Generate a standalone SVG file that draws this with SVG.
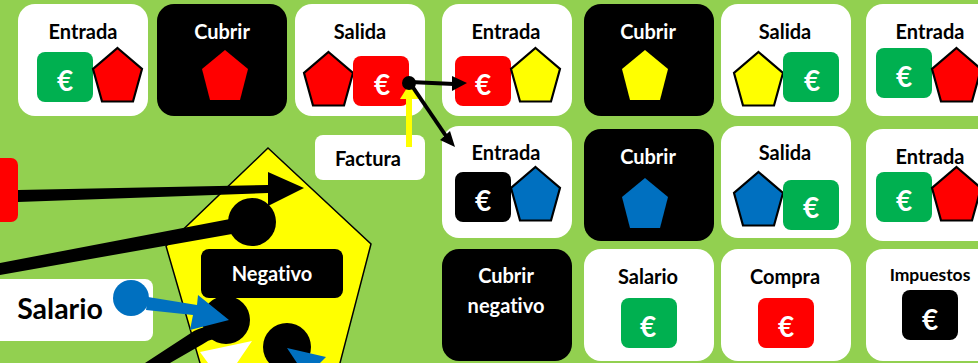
<svg xmlns="http://www.w3.org/2000/svg" width="978" height="363" viewBox="0 0 978 363">
<style>
text{font-family:"Lato","Liberation Sans",sans-serif;font-weight:700;text-anchor:middle;font-variant-ligatures:none}
.t{font-size:20px;fill:#000}
.w{font-size:20px;fill:#fff}
.e{font-size:28px;fill:#fff}
.card{fill:#fff}
.dark{fill:#000}
.pk{stroke:#000;stroke-width:2.2;stroke-linejoin:miter}
.thin{stroke:#000;stroke-width:4;fill:none}
</style>
<defs>
<polygon id="pent" points="24.5,0 49,21 40,53.5 9,53.5 0,21"/>
<polygon id="pentS" points="23,0 46,19 38,50 8,50 0,19"/>
<rect id="sq" width="56" height="50" rx="8"/>
<rect id="cd" width="130" height="112" rx="17"/>
</defs>
<rect width="978" height="363" fill="#92D050"/>

<g id="n-entrada-1"><use href="#cd" class="card" x="18" y="4"/><text class="t" x="83" y="39">Entrada</text><use href="#sq" x="37" y="52" fill="#00B050"/><text class="e" x="65" y="91">€</text><use href="#pent" class="pk" x="93" y="48" fill="#f00"/></g>
<g id="n-cubrir-1"><use href="#cd" class="dark" x="157" y="4"/><text class="w" x="222" y="39">Cubrir</text><use href="#pentS" x="202" y="50" fill="#f00"/></g>
<g id="n-salida-1"><use href="#cd" class="card" x="295" y="4"/><text class="t" x="360" y="39">Salida</text><use href="#pent" class="pk" x="304" y="52" fill="#f00"/><use href="#sq" x="353" y="56" fill="#f00"/><text class="e" x="382" y="95">€</text></g>
<g id="n-entrada-2"><use href="#cd" class="card" x="442" y="4"/><text class="t" x="506" y="39">Entrada</text><use href="#sq" x="455" y="56" fill="#f00"/><text class="e" x="483" y="95">€</text><use href="#pent" class="pk" x="511" y="48" fill="#ff0"/></g>
<g id="n-cubrir-2"><use href="#cd" class="dark" x="584" y="4"/><text class="w" x="648" y="39">Cubrir</text><use href="#pentS" x="622" y="50" fill="#ff0"/></g>
<g id="n-salida-2"><use href="#cd" class="card" x="721" y="4"/><text class="t" x="785" y="39">Salida</text><use href="#pent" class="pk" x="734" y="52" fill="#ff0"/><use href="#sq" x="783" y="52" fill="#00B050"/><text class="e" x="812" y="91">€</text></g>
<g id="n-entrada-3"><use href="#cd" class="card" x="866" y="4"/><text class="t" x="930" y="39">Entrada</text><use href="#sq" x="876" y="48" fill="#00B050"/><text class="e" x="904" y="87">€</text><use href="#pent" class="pk" x="932" y="48" fill="#f00"/></g>

<g id="n-entrada-4"><use href="#cd" class="card" x="442" y="126"/><text class="t" x="506" y="160">Entrada</text><use href="#sq" x="455" y="172" fill="#000"/><text class="e" x="483" y="211">€</text><use href="#pent" class="pk" x="511" y="167" fill="#0070C0"/></g>
<g id="n-cubrir-3"><use href="#cd" class="dark" x="584" y="129"/><text class="w" x="648" y="164">Cubrir</text><use href="#pentS" x="622" y="178" fill="#0070C0"/></g>
<g id="n-salida-3"><use href="#cd" class="card" x="721" y="126"/><text class="t" x="785" y="160">Salida</text><use href="#pent" class="pk" x="734" y="172" fill="#0070C0"/><use href="#sq" x="783" y="180" fill="#00B050"/><text class="e" x="811" y="218">€</text></g>
<g id="n-entrada-5"><use href="#cd" class="card" x="866" y="129"/><text class="t" x="930" y="164">Entrada</text><use href="#sq" x="876" y="172" fill="#00B050"/><text class="e" x="904" y="211">€</text><use href="#pent" class="pk" x="932" y="167" fill="#f00"/></g>

<g id="n-cubrir-negativo"><use href="#cd" class="dark" x="442" y="249"/><text class="w" x="506" y="283">Cubrir</text><text class="w" x="506" y="313">negativo</text></g>
<g id="n-salario-card"><use href="#cd" class="card" x="584" y="249"/><text class="t" x="648" y="284">Salario</text><use href="#sq" x="621" y="298" fill="#00B050"/><text class="e" x="648" y="337">€</text></g>
<g id="n-compra"><use href="#cd" class="card" x="721" y="249"/><text class="t" x="785" y="284">Compra</text><use href="#sq" x="758" y="298" fill="#f00"/><text class="e" x="786" y="337">€</text></g>
<g id="n-impuestos"><use href="#cd" class="card" x="866" y="249"/><text class="t" x="930" y="281" style="font-size:17.5px">Impuestos</text><use href="#sq" x="902" y="290" fill="#000"/><text class="e" x="930" y="330">€</text></g>

<g id="n-factura"><rect x="315" y="135" width="110" height="45" rx="8" fill="#fff"/><text class="t" x="368" y="166">Factura</text></g>
<g id="n-pentagono"><polygon points="268,148 371,244 340,363 340,380 200,380 200,363 166,246" fill="#ff0" stroke="#000" stroke-width="1.5"/></g>
<g id="n-negativo"><rect x="201" y="249" width="142" height="49" rx="8" fill="#000"/><text class="w" x="272" y="281">Negativo</text></g>
<g id="n-salario"><rect x="-10" y="279" width="163" height="62" rx="8" fill="#fff"/><text x="60" y="319" style="font-size:28.5px" fill="#000">Salario</text></g>
<g id="n-rojo"><rect x="-20" y="158" width="38" height="64" rx="7" fill="#f00"/></g>
<g id="n-triangulo"><polygon points="200,352 252,341 237,363 208,363" fill="#fff"/></g>

<g id="connectors">
<polygon points="18,190 268,185 268,172 304,188 268,206 268,193 18,202" fill="#000"/>
<polygon points="0,263 230,219 232,234 0,275" fill="#000"/>
<circle cx="252" cy="222" r="24" fill="#000"/>
<path d="M145,363 L194,331 Q200,328 212,325 L214,339 Q208,340 203,344 L170,363 Z" fill="#000"/>
<circle cx="226" cy="320" r="24" fill="#000"/>
<circle cx="287" cy="347" r="24" fill="#000"/>
<circle cx="131" cy="298" r="18" fill="#0070C0"/>
<polygon points="148,297 197,305 198,295 229,320 190,330 193,315 146,310" fill="#0070C0"/>
<polygon points="287,348 326,357 320,363 297,363" fill="#0070C0"/>
<rect x="406" y="99" width="6" height="48" fill="#ff0"/>
<polygon points="410,83 420,99 400,99" fill="#ff0"/>
<path class="thin" d="M410,82 L454,84"/>
<polygon points="467,83 452,76 452,91" fill="#000"/>
<path class="thin" d="M410,83 L446,136"/>
<polygon points="455,147 440,140 450,131" fill="#000"/>
<circle cx="409" cy="83" r="7" fill="#000"/>
</g>
</svg>
